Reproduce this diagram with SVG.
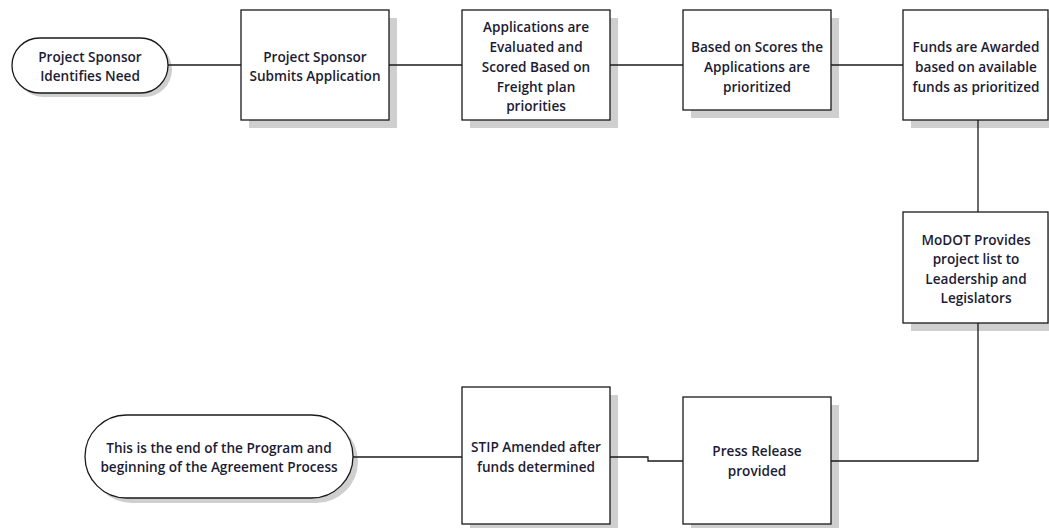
<svg xmlns="http://www.w3.org/2000/svg" width="1049" height="528" viewBox="0 0 1049 528">
  <style>
    .box { fill: #ffffff; stroke: #1a1a1a; stroke-width: 1.3; }
    .shadow { fill: #cfcfcf; }
    .wire { fill: none; stroke: #1a1a1a; stroke-width: 1.3; }
    text { font-family: "Open Sans", "Liberation Sans", sans-serif; font-size: 13.6px; font-weight: 600; fill: #1c1c34; text-anchor: middle; }
  </style>
  <rect width="1049" height="528" fill="#ffffff"/>

  <!-- start terminator -->
  <g id="n-identify">
    <rect class="shadow" x="16" y="42" width="156" height="55" rx="27.5"/>
    <rect class="box" x="12" y="38" width="156" height="55" rx="27.5"/>
    <text x="90" y="62">Project Sponsor</text>
    <text x="90" y="81">Identifies Need</text>
  </g>

  <g id="n-submit">
    <rect class="shadow" x="249" y="18" width="148" height="110"/>
    <rect class="box" x="241" y="10" width="148" height="110"/>
    <text x="315" y="62">Project Sponsor</text>
    <text x="315" y="81">Submits Application</text>
  </g>

  <g id="n-evaluate">
    <rect class="shadow" x="470" y="18" width="148" height="110"/>
    <rect class="box" x="462" y="10" width="148" height="110"/>
    <text x="536" y="32">Applications are</text>
    <text x="536" y="52">Evaluated and</text>
    <text x="536" y="72">Scored Based on</text>
    <text x="536" y="92">Freight plan</text>
    <text x="536" y="111">priorities</text>
  </g>

  <g id="n-prioritize">
    <rect class="shadow" x="691" y="18" width="148" height="100"/>
    <rect class="box" x="683" y="10" width="148" height="100"/>
    <text x="757" y="52">Based on Scores the</text>
    <text x="757" y="72">Applications are</text>
    <text x="757" y="92">prioritized</text>
  </g>

  <g id="n-award">
    <rect class="shadow" x="911" y="18" width="148" height="110"/>
    <rect class="box" x="903" y="10" width="145" height="110"/>
    <text x="976" y="52">Funds are Awarded</text>
    <text x="976" y="72">based on available</text>
    <text x="976" y="92">funds as prioritized</text>
  </g>

  <g id="n-modot">
    <rect class="shadow" x="911" y="220" width="148" height="111"/>
    <rect class="box" x="903" y="212" width="145" height="111"/>
    <text x="976" y="245">MoDOT Provides</text>
    <text x="976" y="264">project list to</text>
    <text x="976" y="284">Leadership and</text>
    <text x="976" y="303">Legislators</text>
  </g>

  <g id="n-press">
    <rect class="shadow" x="691" y="405" width="148" height="127"/>
    <rect class="box" x="683" y="397" width="148" height="127"/>
    <text x="757" y="456">Press Release</text>
    <text x="757" y="476">provided</text>
  </g>

  <g id="n-stip">
    <rect class="shadow" x="470" y="395" width="148" height="137"/>
    <rect class="box" x="462" y="387" width="148" height="137"/>
    <text x="536" y="452">STIP Amended after</text>
    <text x="536" y="472">funds determined</text>
  </g>

  <!-- end terminator -->
  <g id="n-end">
    <rect class="shadow" x="90" y="420" width="268" height="83" rx="41.5"/>
    <rect class="box" x="85" y="415" width="268" height="83" rx="41.5"/>
    <text x="219" y="453">This is the end of the Program and</text>
    <text x="219" y="472">beginning of the Agreement Process</text>
  </g>

  <!-- connectors, drawn over the drop shadows -->
  <g id="connectors">
    <path class="wire" d="M168,65 H241"/>
    <path class="wire" d="M389,65 H462"/>
    <path class="wire" d="M610,65 H683"/>
    <path class="wire" d="M831,65 H903"/>
    <path class="wire" d="M978,120 V212"/>
    <path class="wire" d="M978,323 V461 H831"/>
    <path class="wire" d="M683,461 H648 V457 H610"/>
    <path class="wire" d="M462,457 H353"/>
  </g>
</svg>
